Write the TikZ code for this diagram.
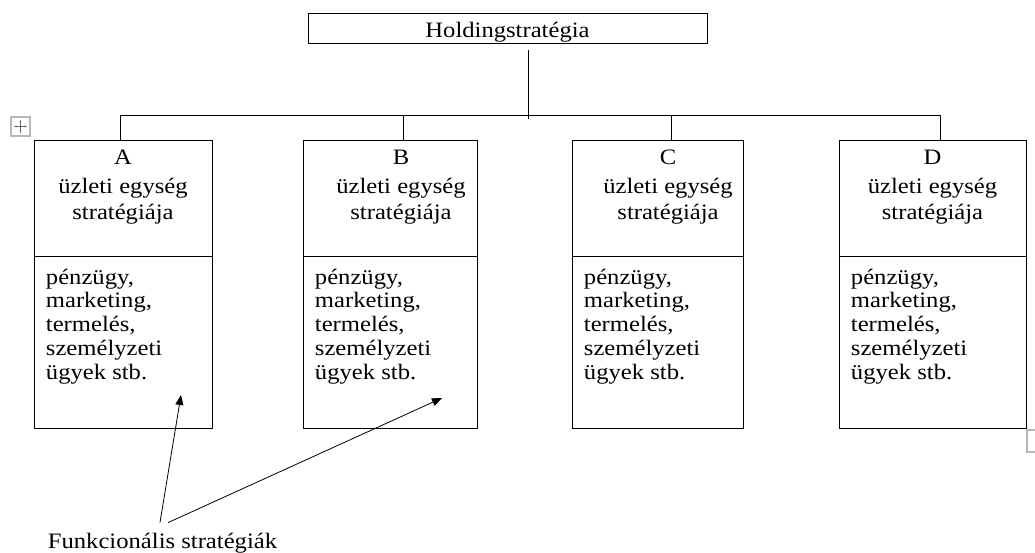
\documentclass[tikz,border=0pt]{standalone}
\usepackage{fontspec}
\setmainfont{Liberation Serif}[FakeStretch=1.12]
\usepackage{tikz}
\usetikzlibrary{arrows.meta, positioning, calc}
\definecolor{cHandle}{RGB}{185,185,185}
\tikzset{
    holdbox/.style ={rectangle, draw=black, minimum width=299.25pt, minimum height=22.5pt, inner sep=0pt, outer sep=0pt, text height=13.5pt, text depth=0pt},
    unithead/.style={rectangle, draw=black, minimum width=#1, minimum height=87pt, inner sep=0pt, outer sep=0pt},
    unitfunc/.style={rectangle, draw=black, minimum width=#1, minimum height=129pt, inner sep=0pt, outer sep=0pt},
    headtext/.style={align=center, inner sep=0pt},
    functext/.style={align=left, inner sep=0pt, font=\fontsize{16.5pt}{17.8pt}\selectfont},
    orgline/.style ={line width=0.7pt},
    pointer/.style ={-{Triangle[length=7.5pt, width=6pt]}, line width=0.6pt},
}
\begin{document}
\begin{tikzpicture}[x=0.75pt, y=-0.75pt, line width=0.7pt, every node/.style={font=\fontsize{16.5pt}{19.5pt}\selectfont}]
    \useasboundingbox (0,0) rectangle (1035,553);

    \node[holdbox] (hold) at (507.5,28) {Holdingstratégia};

    % business units
    \node[unithead=133.5pt, anchor=north west] (headA) at (34,140) {};
    \node[unitfunc=133.5pt, below=0pt of headA] (funcA) {};
    \node[unithead=130.5pt, anchor=north west] (headB) at (303,140) {};
    \node[unitfunc=130.5pt, below=0pt of headB] (funcB) {};
    \node[unithead=128.25pt, anchor=north west] (headC) at (572,140) {};
    \node[unitfunc=128.25pt, below=0pt of headC] (funcC) {};
    \node[unithead=140.25pt, anchor=north west] (headD) at (839,140) {};
    \node[unitfunc=140.25pt, below=0pt of headD] (funcD) {};

    % base = last line here
    \node[headtext, anchor=base] (titleA) at ([yshift=-59.25pt]headA.north) {A\\[2.25pt]üzleti egység\\stratégiája};
    \node[headtext, anchor=base] (titleB) at ([xshift=8.25pt, yshift=-59.25pt]headB.north) {B\\[2.25pt]üzleti egység\\stratégiája};
    \node[headtext, anchor=base] (titleC) at ([xshift=7.9pt, yshift=-59.25pt]headC.north) {C\\[2.25pt]üzleti egység\\stratégiája};
    \node[headtext, anchor=base] (titleD) at ([yshift=-59.25pt]headD.north) {D\\[2.25pt]üzleti egység\\stratégiája};

    \node[functext, anchor=base west] (listA) at ([xshift=8.6pt, yshift=-92.25pt]funcA.north west) {pénzügy,\\marketing,\\termelés,\\személyzeti\\ügyek stb.};
    \node[functext, anchor=base west] (listB) at ([xshift=8.6pt, yshift=-92.25pt]funcB.north west) {pénzügy,\\marketing,\\termelés,\\személyzeti\\ügyek stb.};
    \node[functext, anchor=base west] (listC) at ([xshift=8.6pt, yshift=-92.25pt]funcC.north west) {pénzügy,\\marketing,\\termelés,\\személyzeti\\ügyek stb.};
    \node[functext, anchor=base west] (listD) at ([xshift=8.6pt, yshift=-92.25pt]funcD.north west) {pénzügy,\\marketing,\\termelés,\\személyzeti\\ügyek stb.};

    % tree lines
    \coordinate (trunk) at (528,50);
    \coordinate (busL) at (120,115);
    \coordinate (busR) at (940,115);
    \coordinate (dropB) at (403.5,115);
    \coordinate (dropC) at (671,115);
    \draw[orgline] (trunk) -- ([yshift=-3pt]trunk |- busL);
    \draw[orgline] (busL) -- (busR);
    \draw[orgline] (busL) -- (busL |- headA.north);
    \draw[orgline] (dropB) -- (dropB |- headB.north);
    \draw[orgline] (dropC) -- (dropC |- headC.north);
    \draw[orgline] (busR) -- (busR |- headD.north);

    % functional strategies
    \node[anchor=base, inner sep=0pt] (fs) at (162.5,548) {Funkcionális stratégiák};
    \coordinate (tipA) at (181,395);
    \coordinate (tipB) at (442,398);
    \draw[pointer] ([xshift=-1.9pt, yshift=7.2pt]fs.north) -- (tipA);
    \draw[pointer] ([xshift=4.1pt, yshift=7.2pt]fs.north) -- (tipB);

    % table handles
    \draw[cHandle, line width=0.8pt] (11,117) rectangle (30,136);
    \draw[black!60, line width=0.4pt, {Stealth[length=1.8pt]}-{Stealth[length=1.8pt]}] (14,126.5) -- (27,126.5);
    \draw[black!60, line width=0.4pt, {Stealth[length=1.8pt]}-{Stealth[length=1.8pt]}] (20.5,120) -- (20.5,133);
    \draw[cHandle, line width=0.8pt] (1027,430) rectangle (1045,452);
\end{tikzpicture}
\end{document}
